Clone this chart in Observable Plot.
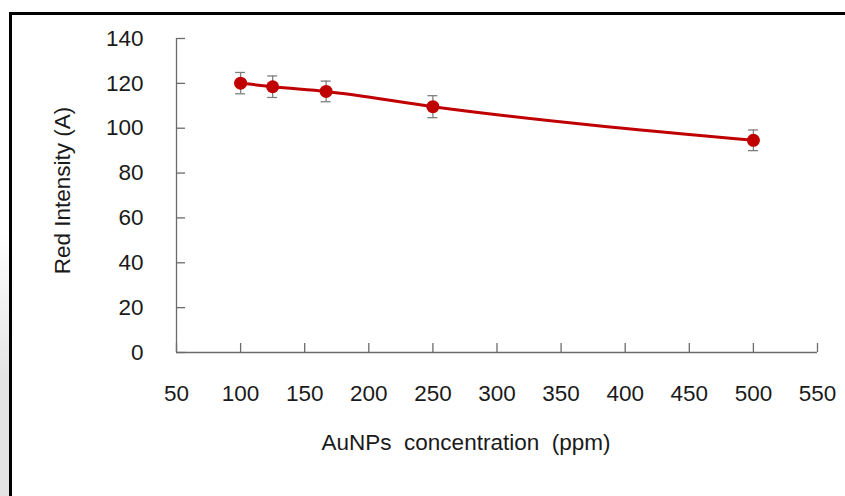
<!DOCTYPE html>
<html>
<head>
<meta charset="utf-8">
<script src="https://cdn.jsdelivr.net/npm/d3@7"></script>
<script src="https://cdn.jsdelivr.net/npm/@observablehq/plot@0.6"></script>
<style>
  html, body { margin: 0; padding: 0; background: #fff; }
  #wrap { position: relative; width: 845px; height: 496px; overflow: hidden; }
  #wrap svg { position: absolute; left: 0; top: 0; }
  #strip { position: absolute; left: 0; top: 15px; width: 9px; bottom: 0;
           background: linear-gradient(#ffffff 0%, #ffffff 45%, #e4e4e4 75%, #e4e4e4 100%); }
  #border { position: absolute; left: 9px; top: 12px; right: -5px; bottom: -5px;
            border-top: 3px solid #000; border-left: 3px solid #000; pointer-events: none; }
</style>
</head>
<body>
<div id="wrap"><div id="strip"></div><div id="border"></div></div>
<script>
// Data
const concentration = [100, 125, 166.7, 250, 500];
const redIntensity = [120.1, 118.5, 116.4, 109.6, 94.6];
const errorValues = [4.75, 4.8, 4.6, 4.9, 4.6];

const xTicks = [50, 100, 150, 200, 250, 300, 350, 400, 450, 500, 550];
const yTicks = [0, 20, 40, 60, 80, 100, 120, 140];
const xDomain = [50, 550];
const yDomain = [0, 140];
const xLabel = "AuNPs  concentration  (ppm)";
const yLabel = "Red Intensity (A)";

const data = concentration.map((x, i) => ({x, y: redIntensity[i], e: errorValues[i]}));

const axisColor = "#6b6b6b";
const red = "#c00000";
const errColor = "#7f7f7f";
const fs = 22.5;

const chart = Plot.plot({
  width: 845,
  height: 496,
  marginLeft: 176,
  marginRight: 28,
  marginTop: 38,
  marginBottom: 144,
  style: {fontFamily: "'Liberation Sans', Arial, sans-serif", fontSize: fs + "px", color: "#1a1a1a", background: "transparent"},
  x: {domain: xDomain, ticks: xTicks},
  y: {domain: yDomain, ticks: yTicks},
  marks: [
    // axis lines
    Plot.ruleX([xDomain[0]], {stroke: axisColor, strokeWidth: 1.3}),
    Plot.ruleY([yDomain[0]], {stroke: axisColor, strokeWidth: 1.3}),
    // inward tick marks
    Plot.ruleY(yTicks, {y: d => d, x1: xDomain[0], x2: xDomain[0], insetRight: -9, stroke: axisColor, strokeWidth: 1.3}),
    Plot.ruleX(xTicks, {x: d => d, y1: yDomain[0], y2: yDomain[0], insetTop: -9, stroke: axisColor, strokeWidth: 1.3}),
    // tick labels
    Plot.axisY(yTicks, {tickSize: 0, tickPadding: 33, label: null, fontSize: fs, fill: "#1a1a1a"}),
    Plot.axisX(xTicks, {tickSize: 0, tickPadding: 33, label: null, fontSize: fs, fill: "#1a1a1a"}),
    // axis titles
    Plot.text([xLabel], {frameAnchor: "bottom", textAnchor: "middle", dx: -31, dy: 97, lineAnchor: "bottom", fontSize: fs, fill: "#1a1a1a"}),
    Plot.text([yLabel], {frameAnchor: "left", textAnchor: "middle", lineAnchor: "middle", rotate: -90, dx: -114, dy: -5, fontSize: fs, fill: "#1a1a1a"}),
    // error bars
    Plot.ruleX(data, {x: "x", y1: d => d.y - d.e, y2: d => d.y + d.e, stroke: errColor, strokeWidth: 1.3}),
    Plot.ruleY(data, {y: d => d.y + d.e, x1: "x", x2: "x", insetLeft: -5, insetRight: -5, stroke: errColor, strokeWidth: 1.3}),
    Plot.ruleY(data, {y: d => d.y - d.e, x1: "x", x2: "x", insetLeft: -5, insetRight: -5, stroke: errColor, strokeWidth: 1.3}),
    // line and points
    Plot.line(data, {x: "x", y: "y", stroke: red, strokeWidth: 3, curve: "monotone-x"}),
    Plot.dot(data, {x: "x", y: "y", r: 6.5, fill: red, stroke: "none"})
  ]
});
document.getElementById("wrap").prepend(chart);
</script>
</body>
</html>
